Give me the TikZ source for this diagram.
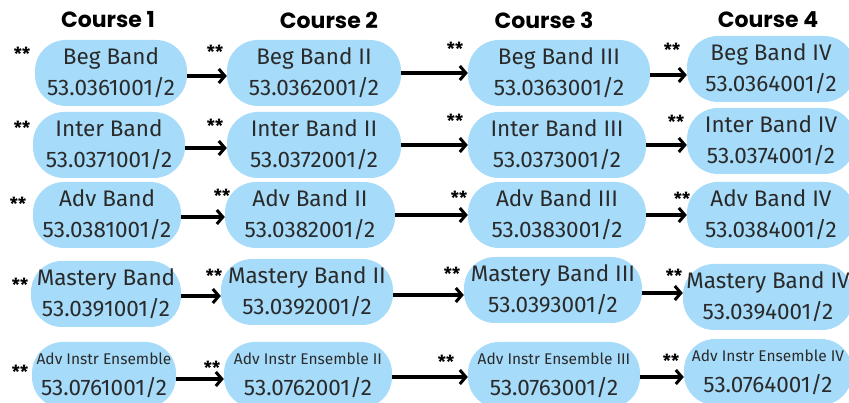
\documentclass[tikz,border=0pt]{standalone}
\usepackage{fontspec}
\setmainfont{Fira Sans}
\newfontfamily\headfont{Poppins}
\usetikzlibrary{arrows.meta}

\definecolor{bandblue}{HTML}{A6DCFA}
\definecolor{bandtext}{HTML}{2A2A2A}

\tikzset{
	course/.style={fill=bandblue, rounded corners=31pt, minimum height=66pt, align=center,
		text=bandtext, inner xsep=2pt, font=\fontsize{22.5}{31}\selectfont},
	head/.style={font=\headfont\bfseries\fontsize{22}{22}\selectfont},
	stars/.style={font=\bfseries\fontsize{18}{18}\selectfont, inner sep=0pt},
	arr/.style={line width=3.4pt, -{Straight Barb[length=6pt,width=14pt,line width=3pt]}}
}
\newcommand{\ensline}[1]{{\fontsize{15.5}{15.5}\selectfont #1}}

\begin{document}
\begin{tikzpicture}[x=1pt, y=-1pt]
		\useasboundingbox (0,0) rectangle (849,403);
		\clip (0,0) rectangle (849,403);
		% course headers
		\node[head] (h1) at (108,20) {Course 1};
		\node[head] (h2) at (329,20) {Course 2};
		\node[head] (h3) at (544,20) {Course 3};
		\node[head] (h4) at (768,20) {Course 4};
		% beginning band
		\node[course, minimum width=152pt] (b11) at (111,73) {Beg Band\\53.0361001/2};
		\node[course, minimum width=174pt] (b12) at (314,73) {Beg Band II\\53.0362001/2};
		\node[course, minimum width=182pt] (b13) at (559,73) {Beg Band III\\53.0363001/2};
		\node[course, minimum width=168pt] (b14) at (771,69) {Beg Band IV\\53.0364001/2};
		% intermediate band
		\node[course, minimum width=152pt] (b21) at (109,145) {Inter Band\\53.0371001/2};
		\node[course, minimum width=174pt] (b22) at (314,145) {Inter Band II\\53.0372001/2};
		\node[course, minimum width=178pt] (b23) at (557,145) {Inter Band III\\53.0373001/2};
		\node[course, minimum width=168pt] (b24) at (771,141) {Inter Band IV\\53.0374001/2};
		% advanced band
		\node[course, minimum width=148pt] (b31) at (107,215) {Adv Band\\53.0381001/2};
		\node[course, minimum width=170pt] (b32) at (310,215) {Adv Band II\\53.0382001/2};
		\node[course, minimum width=178pt] (b33) at (557,215) {Adv Band III\\53.0383001/2};
		\node[course, minimum width=168pt] (b34) at (771,215) {Adv Band IV\\53.0384001/2};
		% mastery band
		\node[course, minimum width=150pt] (b41) at (106,294) {Mastery Band\\53.0391001/2};
		\node[course, minimum width=172pt] (b42) at (307,292) {Mastery Band II\\53.0392001/2};
		\node[course, minimum width=178pt] (b43) at (553,290) {Mastery Band III\\53.0393001/2};
		\node[course, minimum width=170pt] (b44) at (768,297) {Mastery Band IV\\53.0394001/2};
		% advanced instrumental ensemble
		\node[course, minimum width=144pt] (b51) at (104,375) {\ensline{Adv Instr Ensemble}\\53.0761001/2};
		\node[course, minimum width=168pt] (b52) at (308,375) {\ensline{Adv Instr Ensemble II}\\53.0762001/2};
		\node[course, minimum width=172pt] (b53) at (554,375) {\ensline{Adv Instr Ensemble III}\\53.0763001/2};
		\node[course, minimum width=168pt] (b54) at (768,372) {\ensline{Adv Instr Ensemble IV}\\53.0764001/2};
		% stars
		\node[stars] (s11) at (22,54) {**};
		\node[stars] (s12) at (215,52) {**};
		\node[stars] (s13) at (455,49) {**};
		\node[stars] (s14) at (672,50) {**};
		\node[stars] (s21) at (22,128) {**};
		\node[stars] (s22) at (215,126) {**};
		\node[stars] (s23) at (455,121) {**};
		\node[stars] (s24) at (676,122) {**};
		\node[stars] (s31) at (18,204) {**};
		\node[stars] (s32) at (222,196) {**};
		\node[stars] (s33) at (459,198) {**};
		\node[stars] (s34) at (682,199) {**};
		\node[stars] (s41) at (20,285) {**};
		\node[stars] (s42) at (214,276) {**};
		\node[stars] (s43) at (452,274) {**};
		\node[stars] (s44) at (674,276) {**};
		\node[stars] (s51) at (20,372) {**};
		\node[stars] (s52) at (212,368) {**};
		\node[stars] (s53) at (446,362) {**};
		\node[stars] (s54) at (671,361) {**};
		% arrows
		\draw[arr] ([yshift=-3pt]b11.east) -- ([yshift=-3pt]b11.east -| b12.west);
		\draw[arr] (b12.east) -- (b12.east -| b13.west);
		\draw[arr] ([yshift=-2pt]b13.east) -- ([yshift=-2pt]b13.east -| b14.west);
		\draw[arr] ([yshift=-3pt]b21.east) -- ([yshift=-3pt]b21.east -| b22.west);
		\draw[arr] (b22.east) -- (b22.east -| b23.west);
		\draw[arr] (b23.east) -- (b23.east -| b24.west);
		\draw[arr] ([yshift=-2pt]b31.east) -- ([yshift=-2pt]b31.east -| b32.west);
		\draw[arr] (b32.east) -- (b32.east -| b33.west);
		\draw[arr] (b33.east) -- (b33.east -| b34.west);
		\draw[arr] ([yshift=-2pt]b41.east) -- ([yshift=-2pt]b41.east -| b42.west);
		\draw[arr] ([yshift=-3pt]b42.east) -- ([yshift=-3pt]b42.east -| b43.west);
		\draw[arr] ([yshift=-3pt]b43.east) -- ([yshift=-3pt]b43.east -| b44.west);
		\draw[arr] ([yshift=-4pt]b51.east) -- ([yshift=-4pt]b51.east -| b52.west);
		\draw[arr] ([yshift=-2pt]b52.east) -- ([yshift=-2pt]b52.east -| b53.west);
		\draw[arr] ([yshift=-2pt]b53.east) -- ([yshift=-2pt]b53.east -| b54.west);
		\end{tikzpicture}
\end{document}
